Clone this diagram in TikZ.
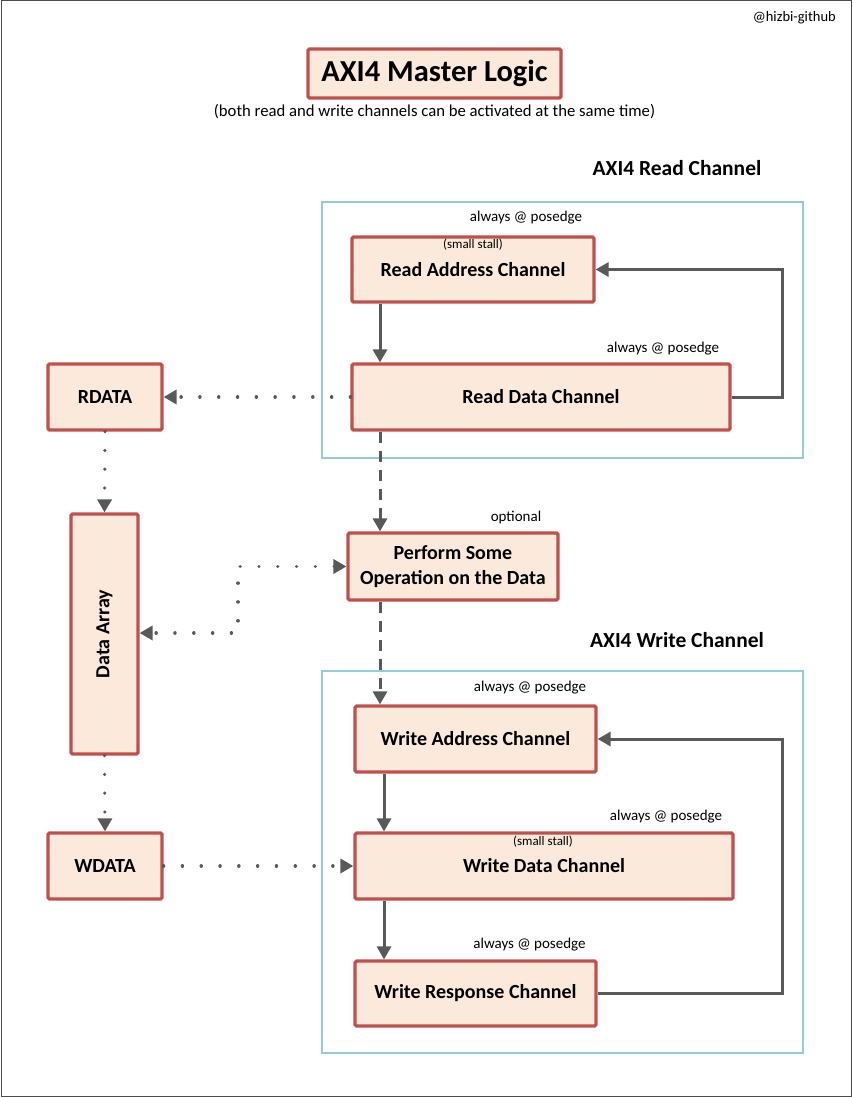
\documentclass[tikz,border=0pt]{standalone}
\usepackage{fontspec}
\setmainfont{Carlito}
\usetikzlibrary{arrows.meta}
\definecolor{boxred}{HTML}{C0504D}
\definecolor{boxfill}{HTML}{FBE9DB}
\definecolor{conn}{HTML}{595959}
\definecolor{chan}{HTML}{93CDDD}
\begin{document}
\begin{tikzpicture}[x=1pt,y=-1pt,
  box/.style={draw=boxred, line width=3.2pt, fill=boxfill, rounded corners=1.5pt, inner sep=0pt, align=center, font=\fontsize{20}{24}\selectfont\bfseries},
  chanbox/.style={draw=chan, line width=1.2pt},
  note/.style={inner sep=0pt, font=\fontsize{15}{17}\selectfont},
  small/.style={inner sep=0pt, font=\fontsize{13}{15}\selectfont},
  head/.style={inner sep=0pt, font=\fontsize{21.5}{25}\selectfont\bfseries},
  tip/.style={-{Triangle[length=13pt,width=14pt]}},
  solidc/.style={draw=conn, line width=3pt, tip},
  dotc/.style={draw=conn, line width=3.5pt, line cap=round, dash pattern=on 0.01pt off 18.8pt, tip},
  dashc/.style={draw=conn, line width=3pt, dash pattern=on 11pt off 8pt, tip},
]
\useasboundingbox (0,0) rectangle (852,1097);
\draw[line width=1pt, draw=black!70] (1,1) rectangle (851,1096);

\node[inner sep=0pt, anchor=north east, font=\fontsize{14.5}{16}\selectfont] (gh) at (836,11) {@hizbi-github};

% title
\node[box, minimum width=253pt, minimum height=49pt, font=\fontsize{30.5}{34}\selectfont\bfseries] (title) at (434.5,73.5) {AXI4 Master Logic};
\node[inner sep=0pt, font=\fontsize{16.7}{19}\selectfont] (sub) at (434.5,112) {(both read and write channels can be activated at the same time)};

% channel frames
\node[head] (rh) at (677,168) {AXI4 Read Channel};
\draw[chanbox] (322,202) rectangle (803,458);
\node[head] (wh) at (677,640) {AXI4 Write Channel};
\draw[chanbox] (322,671) rectangle (803,1053);

% boxes
\node[box, minimum width=242pt, minimum height=65pt] (rac) at (473,269.5) {Read Address Channel};
\node[small] (rs) at (473,245) {(small stall)};
\node[note] (n1) at (526,218) {always @ posedge};

\node[box, minimum width=378pt, minimum height=66pt] (rdc) at (541,397) {Read Data Channel};
\node[note] (n2) at (663,349) {always @ posedge};

\node[box, minimum width=114pt, minimum height=66pt] (rdata) at (105,397) {RDATA};
\node[box, minimum width=67pt, minimum height=240pt] (arr) at (104.5,634) {};
\node[inner sep=0pt, rotate=90, font=\fontsize{20}{24}\selectfont\bfseries] (arrl) at (104.5,634) {Data Array};

\node[box, minimum width=210pt, minimum height=67pt, font=\fontsize{20}{24.5}\selectfont\bfseries] (op) at (453,566.5) {Perform Some\\Operation on the Data};
\node[note] (n3) at (516,517) {optional};

\node[box, minimum width=241pt, minimum height=66pt] (wac) at (475.5,739) {Write Address Channel};
\node[note] (n4) at (530,688) {always @ posedge};

\node[box, minimum width=378pt, minimum height=66pt] (wdc) at (544,866) {Write Data Channel};
\node[small] (ws) at (543,842) {(small stall)};
\node[note] (n5) at (666,817) {always @ posedge};

\node[box, minimum width=114pt, minimum height=66pt] (wdata) at (105,866) {WDATA};

\node[box, minimum width=241pt, minimum height=65pt] (wrc) at (475.5,993.5) {Write Response Channel};
\node[note] (n6) at (529.5,945) {always @ posedge};

% helper coordinates
\coordinate (xr) at (380,0);
\coordinate (xw) at (384,0);
\coordinate (fb) at (782,0);
\coordinate (mid) at (238,0);

% read channel
\draw[solidc] (rac.south -| xr) -- (rdc.north -| xr);
\draw[solidc] (rdc.east) -- (rdc.east -| fb) -- (rac.east -| fb) -- (rac.east);
\draw[dotc] (rdc.west) -- (rdata.east);
\draw[dotc] (rdata.south) -- (arr.north);
\draw[dashc] (rdc.south -| xr) -- (op.north -| xr);

% data array <-> operation
\coordinate (ya) at (0,633);
\draw[dotc, {Triangle[length=13pt,width=14pt]}-{Triangle[length=13pt,width=14pt]}] (op.west) -- (op.west -| mid) -- (ya -| mid) -- (ya -| arr.east);

% write channel
\draw[dashc] (op.south -| xr) -- (wac.north -| xr);
\draw[solidc] (wac.south -| xw) -- (wdc.north -| xw);
\draw[solidc] (wdc.south -| xw) -- (wrc.north -| xw);
\draw[solidc] (wrc.east) -- (wrc.east -| fb) -- (wac.east -| fb) -- (wac.east);
\draw[dotc] (wdata.east) -- (wdc.west);
\draw[dotc] (arr.south) -- (wdata.north);
\end{tikzpicture}
\end{document}
